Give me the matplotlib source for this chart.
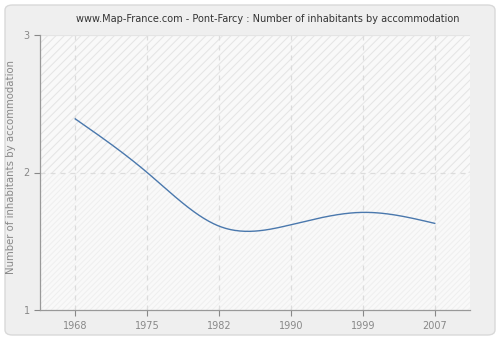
import numpy as np
import matplotlib
matplotlib.use("Agg")
import matplotlib.pyplot as plt
from matplotlib.patches import FancyBboxPatch, Rectangle

years = ["1968", "1975", "1982", "1990", "1999", "2007"]
inhabitants = [2.39, 2.0, 1.61, 1.62, 1.71, 1.63]
y_ticks = [1, 2, 3]

title = "www.Map-France.com - Pont-Farcy : Number of inhabitants by accommodation"
y_label = "Number of inhabitants by accommodation"


def natural_spline(x, y, n=300):
    # natural cubic spline through the points, no scipy needed
    x = np.asarray(x, float)
    y = np.asarray(y, float)
    k = len(x)
    h = np.diff(x)
    A = np.zeros((k, k))
    b = np.zeros(k)
    A[0, 0] = A[-1, -1] = 1
    for i in range(1, k - 1):
        A[i, i - 1] = h[i - 1]
        A[i, i] = 2 * (h[i - 1] + h[i])
        A[i, i + 1] = h[i]
        b[i] = 3 * ((y[i + 1] - y[i]) / h[i] - (y[i] - y[i - 1]) / h[i - 1])
    c = np.linalg.solve(A, b)
    xs = np.linspace(x[0], x[-1], n)
    idx = np.clip(np.searchsorted(x, xs) - 1, 0, k - 2)
    dx = xs - x[idx]
    bb = (y[idx + 1] - y[idx]) / h[idx] - h[idx] * (2 * c[idx] + c[idx + 1]) / 3
    dd = (c[idx + 1] - c[idx]) / (3 * h[idx])
    ys = y[idx] + bb * dx + c[idx] * dx ** 2 + dd * dx ** 3
    return xs, ys


plt.rcParams['hatch.linewidth'] = 0.7

fig = plt.figure(figsize=(5, 3.4), dpi=100)
fig.patch.set_facecolor("white")
panel = FancyBboxPatch((5 / 500, 5 / 340), 490 / 500, 330 / 340,
                       boxstyle="round,pad=0,rounding_size=0.015",
                       transform=fig.transFigure, facecolor="#efefef",
                       edgecolor="#d9d9d9", linewidth=1, zorder=-1)
fig.add_artist(panel)

ax = fig.add_axes([40 / 500, 30 / 340, 430 / 500, 275 / 340])
ax.set_zorder(1)
ax.set_facecolor("#f9f9f9")

x = np.arange(len(years))
ax.set_xlim(-0.49, len(years) - 0.51)
ax.set_ylim(1, 3)

# hatched background, stronger above 2
ax.add_patch(Rectangle((-1, 2), 10, 1, facecolor="none", edgecolor="#e4e4e4",
                       hatch="////", linewidth=0, zorder=0))
ax.add_patch(Rectangle((-1, 1), 10, 1, facecolor="none", edgecolor="#efefef",
                       hatch="//////", linewidth=0, zorder=0))

for xi in x:
    ax.axvline(xi, color="#dcdcdc", linestyle=(0, (4, 4)), linewidth=0.9, zorder=1)
ax.axhline(2, color="#dcdcdc", linestyle=(0, (4, 4)), linewidth=0.9, zorder=1)
ax.axhline(3, color="#e4e4e4", linewidth=0.9, zorder=1)

xs, ys = natural_spline(x, inhabitants)
ax.plot(xs, ys, color="#4a78ad", linewidth=1.0, zorder=3)

ax.set_xticks(x)
ax.set_xticklabels(years)
ax.set_yticks(y_ticks)
ax.tick_params(colors="#888888", labelsize=7, length=4.5, width=0.8)
ax.tick_params(axis="y", pad=3)
for s in ["top", "right"]:
    ax.spines[s].set_visible(False)
for s in ["left", "bottom"]:
    ax.spines[s].set_color("#999999")
    ax.spines[s].set_linewidth(0.9)

ax.set_ylabel(y_label, color="#888888", fontsize=7.3)
ax.yaxis.set_label_coords(-0.055, 0.52)
fig.text(0.535, 0.945, title, ha="center", va="center", fontsize=7, color="#333333")

fig.savefig("out.png", dpi=100, facecolor=fig.get_facecolor())
